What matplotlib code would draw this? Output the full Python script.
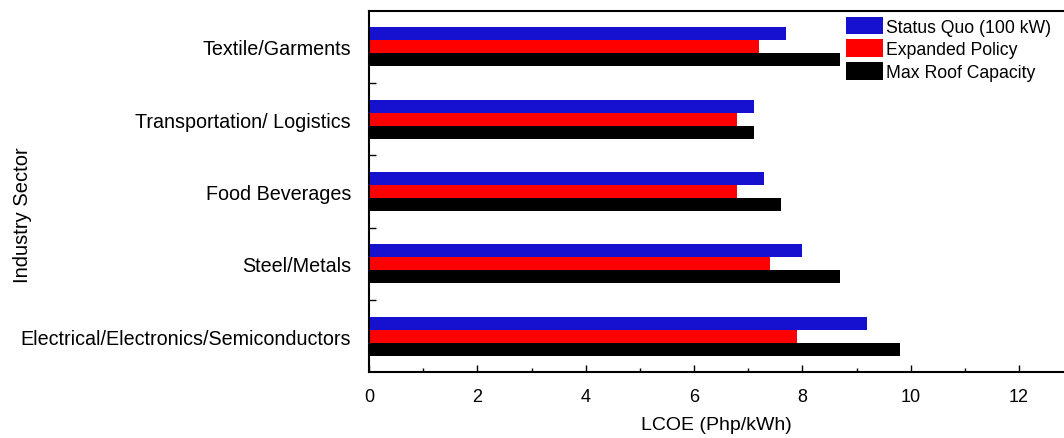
import matplotlib
matplotlib.use("Agg")
import matplotlib.pyplot as plt
import numpy as np
from matplotlib.ticker import FixedLocator, MultipleLocator

plt.rcParams['font.family'] = ['Liberation Sans', 'DejaVu Sans']

categories = ["Textile/Garments", "Transportation/ Logistics", "Food Beverages",
              "Steel/Metals", "Electrical/Electronics/Semiconductors"]
series_names = ["Status Quo (100 kW)", "Expanded Policy", "Max Roof Capacity"]
status_quo = [7.7, 7.1, 7.3, 8.0, 9.2]
expanded = [7.2, 6.8, 6.8, 7.4, 7.9]
max_roof = [8.7, 7.1, 7.6, 8.7, 9.8]
colors = ["#1610CF", "#FF0000", "#000000"]

fig = plt.figure(figsize=(10.64, 4.39), dpi=100)
ax = fig.add_axes([369/1064, 1 - 373.3/439, 1 - 369/1064, (373.3 - 11.7)/439])

y = np.arange(len(categories))
h = 0.18
for i, (vals, name, c) in enumerate(zip([status_quo, expanded, max_roof], series_names, colors)):
    ax.barh(y + (i - 1) * h, vals, height=h, color=c, label=name, linewidth=0)

ax.set_ylim(len(categories) - 0.5, -0.5)
ax.set_xlim(0, 12.83)
ax.set_yticks(y)
ax.set_yticklabels(categories, fontsize=14.2)
ax.yaxis.set_minor_locator(FixedLocator(y[:-1] + 0.5))
ax.tick_params(axis='y', which='major', length=0, pad=13)
ax.tick_params(axis='y', which='minor', direction='in', length=5, width=1)
ax.set_xticks(np.arange(0, 13, 2))
ax.xaxis.set_minor_locator(MultipleLocator(1))
ax.tick_params(axis='x', which='major', direction='in', length=5, width=1, labelsize=13, pad=11)
ax.tick_params(axis='x', which='minor', direction='in', length=3, width=1)
ax.spines['right'].set_visible(False)
for s in ['left', 'bottom', 'top']:
    ax.spines[s].set_linewidth(1.5)

ax.set_xlabel("LCOE (Php/kWh)", fontsize=14, labelpad=8)
fig.text(23/1064, 1 - 215/439, "Industry Sector", rotation=90, fontsize=14.5,
         ha='center', va='center')

leg = ax.legend(loc='upper right', bbox_to_anchor=(0.99, 1.0), frameon=False, fontsize=12.7,
                handlelength=2.1, handleheight=1.15, handletextpad=0.17, labelspacing=0.22,
                borderaxespad=0.1, borderpad=0.25)

fig.savefig("out.png", dpi=100)
